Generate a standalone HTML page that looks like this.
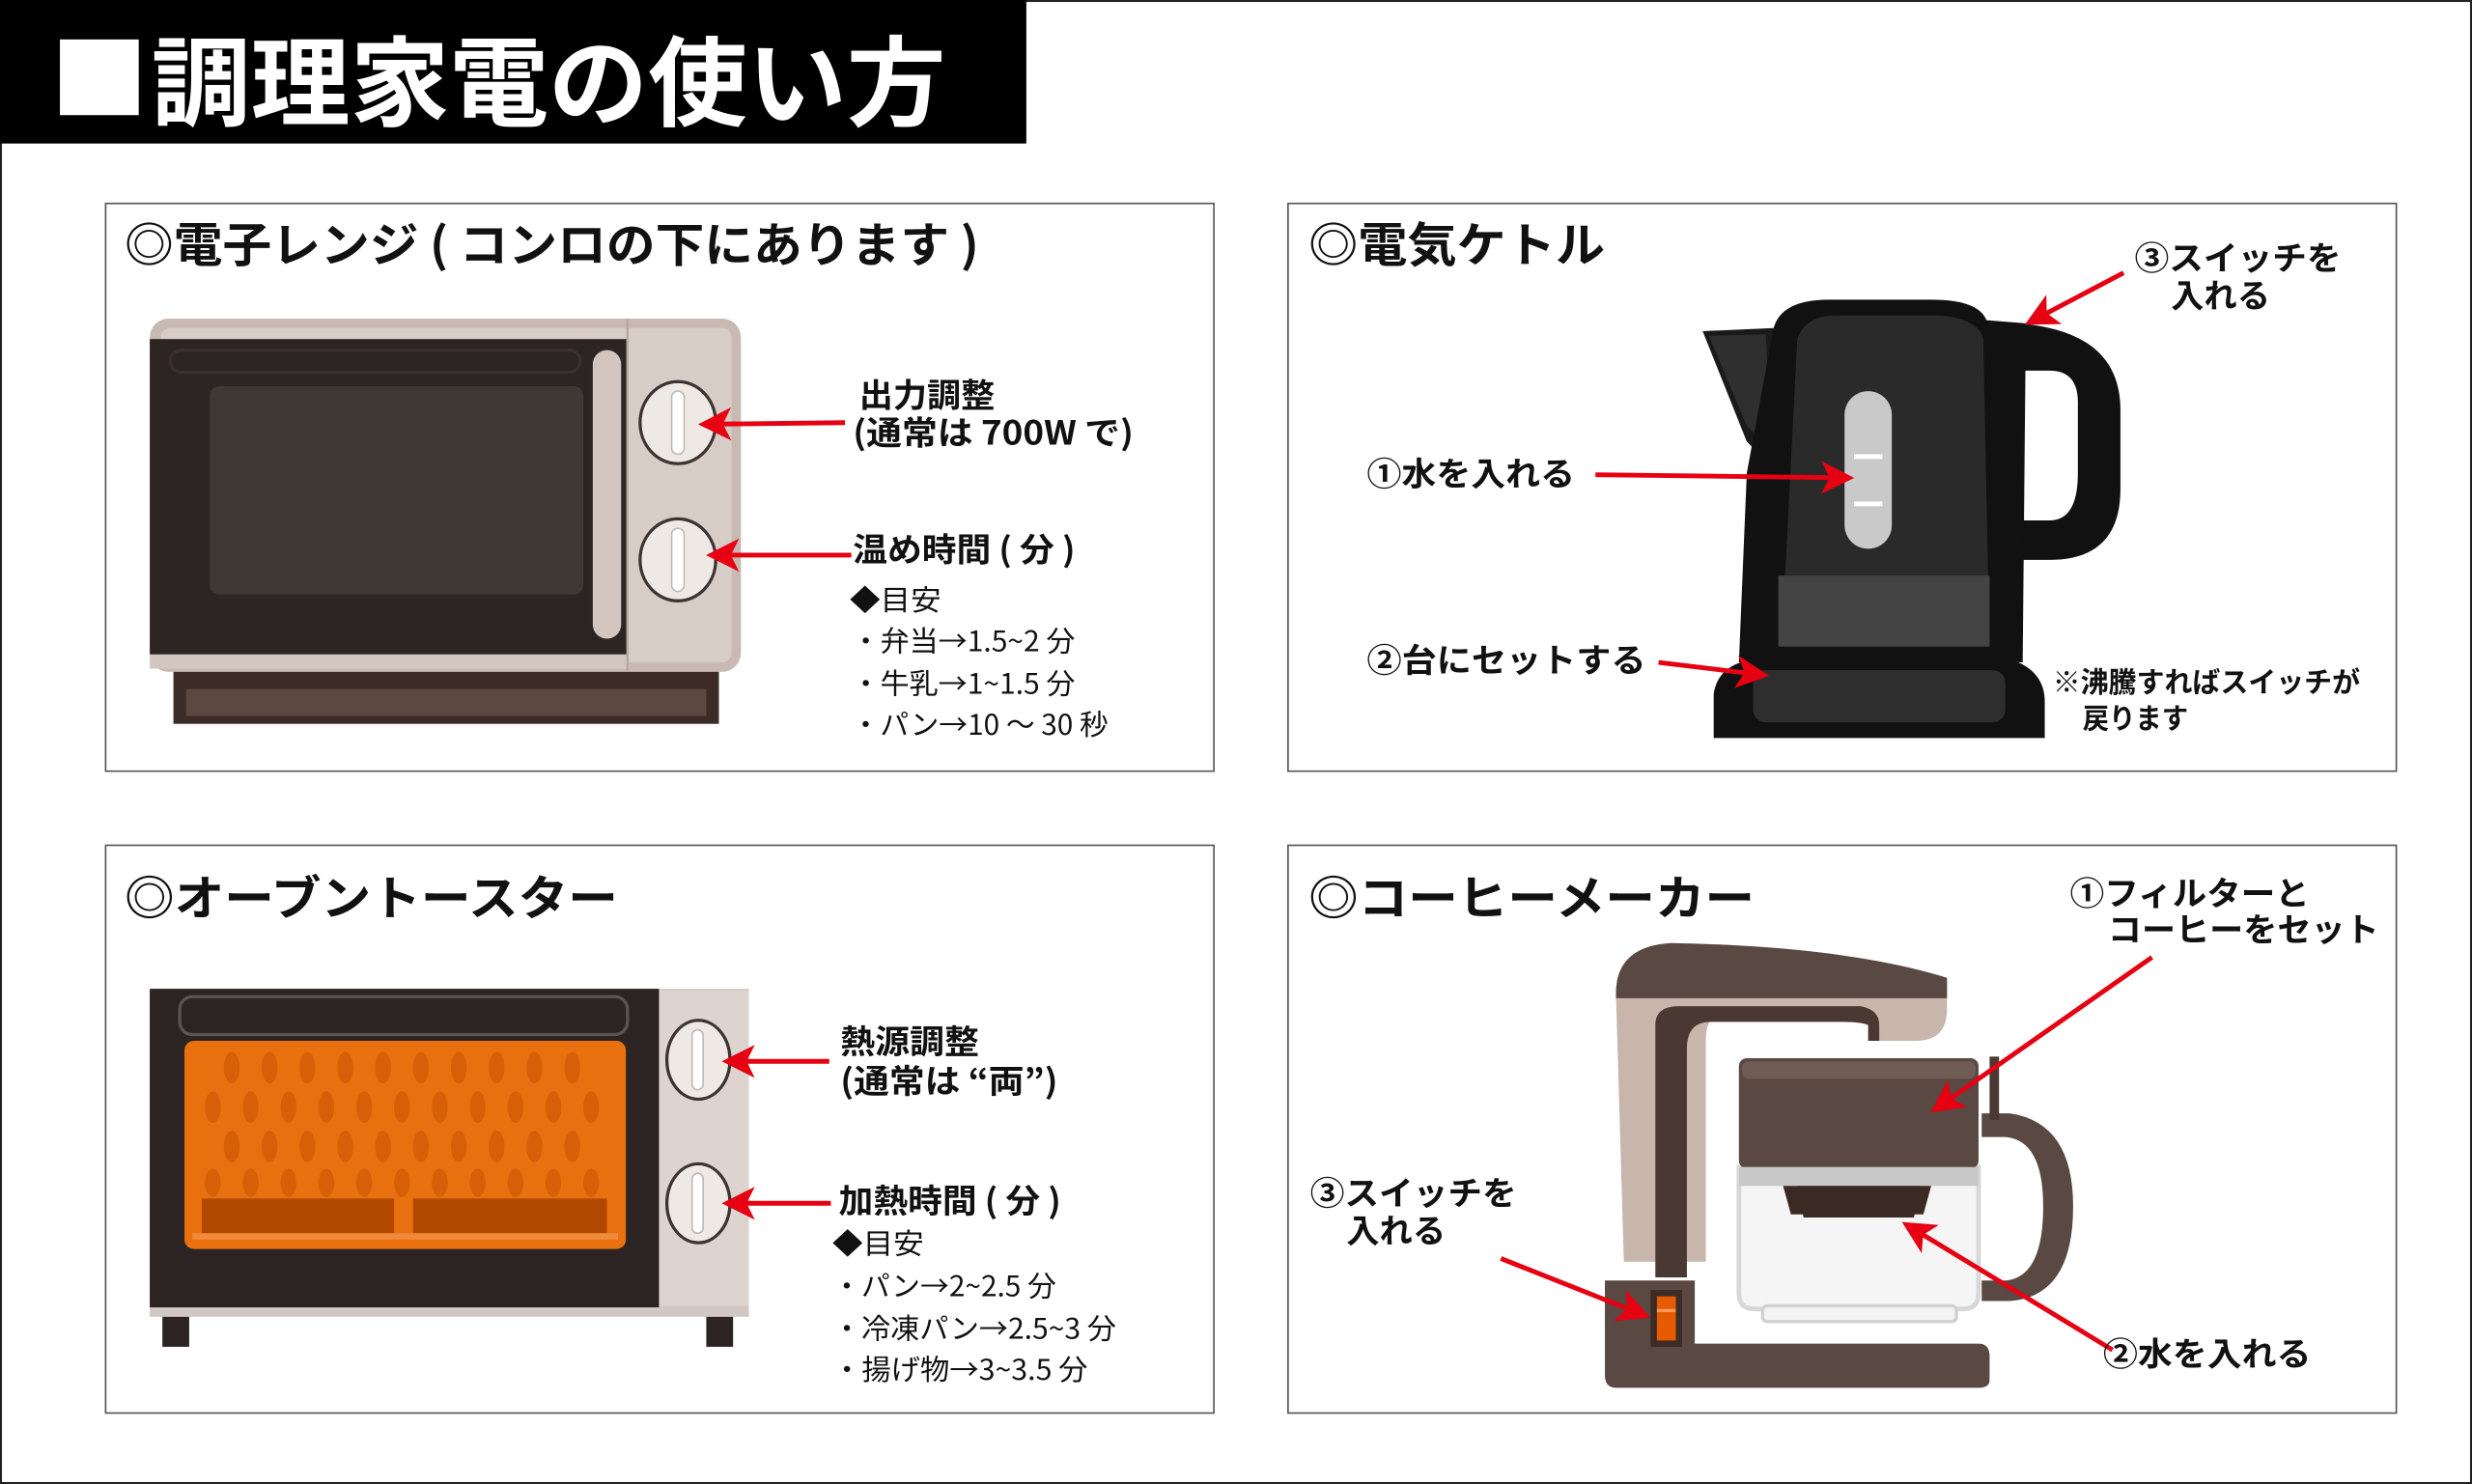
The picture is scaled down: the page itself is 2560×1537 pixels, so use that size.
<!DOCTYPE html>
<html><head><meta charset="utf-8"><style>
html,body{margin:0;padding:0;background:#fff;}
svg{display:block;}
text{font-family:"Noto Sans CJK JP","Liberation Sans",sans-serif;fill:#111;}
.b{font-weight:bold;}
</style></head><body>
<svg width="2560" height="1537" viewBox="0 0 1568 941" preserveAspectRatio="none" xmlns="http://www.w3.org/2000/svg">
<defs>
<marker id="ah" viewBox="0 0 10 10" refX="8" refY="5" markerWidth="7" markerHeight="7" orient="auto" markerUnits="strokeWidth">
<path d="M0,0 L10,5 L0,10 L2.5,5 Z" fill="#e60012"/></marker>
</defs>
<rect x="0.5" y="0.5" width="1567" height="940" fill="#fff" stroke="#222" stroke-width="1.5"/>
<rect x="0" y="0" width="651" height="91" fill="#000"/>
<rect x="38" y="25" width="50" height="48" fill="#fff"/>
<text x="96" y="75" class="b" font-size="62" style="fill:#fff" textLength="504" lengthAdjust="spacingAndGlyphs">調理家電の使い方</text>

<!-- panels -->
<rect x="67" y="129" width="703" height="360" fill="#fff" stroke="#555" stroke-width="1"/>
<rect x="817" y="129" width="703" height="360" fill="#fff" stroke="#555" stroke-width="1"/>
<rect x="67" y="536" width="703" height="360" fill="#fff" stroke="#555" stroke-width="1"/>
<rect x="817" y="536" width="703" height="360" fill="#fff" stroke="#555" stroke-width="1"/>

<text x="79" y="166" class="b" font-size="30" textLength="542" lengthAdjust="spacingAndGlyphs">◎電子レンジ ( コンロの下にあります )</text>
<text x="830" y="166" class="b" font-size="30" textLength="188" lengthAdjust="spacingAndGlyphs">◎電気ケトル</text>
<text x="79" y="580" class="b" font-size="30" textLength="313" lengthAdjust="spacingAndGlyphs">◎オーブントースター</text>
<text x="830" y="580" class="b" font-size="30" textLength="283" lengthAdjust="spacingAndGlyphs">◎コーヒーメーカー</text>

<!-- microwave -->
<rect x="110" y="424" width="346" height="35" fill="#3b2c27"/>
<rect x="118" y="437" width="330" height="17" fill="#5b4841"/>
<rect x="95" y="202" width="375" height="224" rx="12" fill="#c8b9b2"/>
<rect x="102" y="208" width="362" height="212" rx="6" fill="#d8ccc6"/>
<rect x="95" y="215" width="303" height="200" fill="#2d2523"/>
<rect x="108" y="222" width="260" height="14" rx="7" fill="none" stroke="#3a302e" stroke-width="2"/>
<rect x="133" y="245" width="237" height="132" rx="6" fill="#403835"/>
<rect x="376" y="222" width="18" height="183" rx="9" fill="#d3c6c0"/>
<rect x="95" y="415" width="303" height="9" fill="#d3c6c0"/>
<line x1="398" y1="202" x2="398" y2="426" stroke="#b8a8a0" stroke-width="1.5"/>
<ellipse cx="430" cy="268" rx="24" ry="26" fill="#efe9e6" stroke="#3d3330" stroke-width="2"/>
<rect x="426" y="248" width="8" height="40" rx="4" fill="#fff" stroke="#bbb" stroke-width="1"/>
<ellipse cx="430" cy="355" rx="24" ry="26" fill="#efe9e6" stroke="#3d3330" stroke-width="2"/>
<rect x="426" y="335" width="8" height="40" rx="4" fill="#fff" stroke="#bbb" stroke-width="1"/>
<line x1="536" y1="268" x2="447" y2="269" stroke="#e60012" stroke-width="3" marker-end="url(#ah)"/>
<line x1="540" y1="352" x2="452" y2="352" stroke="#e60012" stroke-width="3" marker-end="url(#ah)"/>
<text x="545" y="258" class="b" font-size="21" textLength="86" lengthAdjust="spacingAndGlyphs">出力調整</text>
<text x="541" y="282" class="b" font-size="21" textLength="178" lengthAdjust="spacingAndGlyphs">(通常は 700W で)</text>
<text x="541" y="356" class="b" font-size="21" textLength="141" lengthAdjust="spacingAndGlyphs">温め時間 ( 分 )</text>
<text x="539" y="387" font-size="18" textLength="58" lengthAdjust="spacingAndGlyphs">◆目安</text>
<text x="540" y="413" font-size="18" textLength="142" lengthAdjust="spacingAndGlyphs">・弁当→1.5~2 分</text>
<text x="540" y="440" font-size="18" textLength="142" lengthAdjust="spacingAndGlyphs">・牛乳→1~1.5 分</text>
<text x="540" y="466" font-size="18" textLength="163" lengthAdjust="spacingAndGlyphs">・パン→10 ～ 30 秒</text>

<!-- kettle -->
<path d="M1087,468 L1087,440 Q1090,420 1115,418 L1275,418 Q1297,425 1297,445 L1297,468 Z" fill="#111"/>
<rect x="1112" y="425" width="160" height="33" rx="8" fill="#2e2e2e"/>
<path d="M1280,205 Q1345,210 1345,260 L1345,310 Q1345,355 1300,355 L1282,355 L1282,330 L1300,330 Q1318,330 1318,300 L1318,255 Q1318,235 1300,235 L1275,235 Z" fill="#111"/>
<path d="M1080,210 L1125,208 L1128,300 L1108,280 Z" fill="#1a1a1a"/>
<path d="M1084,213 L1120,212 L1124,285 L1108,270 Z" fill="#2f2f2f"/>
<path d="M1125,208 Q1130,190 1160,190 L1225,190 Q1255,190 1260,203 L1285,205 L1283,420 L1103,420 L1108,300 Z" fill="#111"/>
<path d="M1140,215 Q1145,200 1165,200 L1230,200 Q1255,202 1258,215 L1262,410 L1130,410 Z" fill="#2a2a2a"/>
<rect x="1128" y="365" width="134" height="45" fill="#444"/>
<rect x="1170" y="248" width="30" height="100" rx="15" fill="#c9c9c9"/>
<rect x="1176" y="288" width="18" height="3" fill="#fff"/>
<rect x="1176" y="318" width="18" height="3" fill="#fff"/>
<line x1="1012" y1="301" x2="1172" y2="303" stroke="#e60012" stroke-width="3" marker-end="url(#ah)"/>
<line x1="1052" y1="420" x2="1118" y2="428" stroke="#e60012" stroke-width="3" marker-end="url(#ah)"/>
<line x1="1347" y1="173" x2="1288" y2="204" stroke="#e60012" stroke-width="3" marker-end="url(#ah)"/>
<text x="867" y="308" class="b" font-size="21" textLength="132" lengthAdjust="spacingAndGlyphs">①水を入れる</text>
<text x="867" y="426" class="b" font-size="21" textLength="177" lengthAdjust="spacingAndGlyphs">②台にセットする</text>
<text x="1354" y="171" class="b" font-size="21" textLength="131" lengthAdjust="spacingAndGlyphs">③スイッチを</text>
<text x="1377" y="195" class="b" font-size="21" textLength="63" lengthAdjust="spacingAndGlyphs">入れる</text>
<text x="1302" y="439" class="b" font-size="18" textLength="195" lengthAdjust="spacingAndGlyphs">※沸騰すればスイッチが</text>
<text x="1321" y="462" class="b" font-size="18" textLength="67" lengthAdjust="spacingAndGlyphs">戻ります</text>

<!-- toaster -->
<rect x="103" y="833" width="17" height="21" fill="#2b2422"/>
<rect x="448" y="833" width="17" height="21" fill="#2b2422"/>
<rect x="95" y="627" width="380" height="208" fill="#d2c8c3"/>
<rect x="418" y="628" width="57" height="200" fill="#ddd4d0"/>
<rect x="95" y="627" width="323" height="202" fill="#2b2422"/>
<rect x="114" y="632" width="284" height="24" rx="8" fill="#2b2422" stroke="#5a5452" stroke-width="2"/>
<rect x="117" y="660" width="280" height="132" rx="6" fill="#e9700f"/>
<g fill="#d65f08">
<ellipse cx="147" cy="677" rx="5" ry="10"/><ellipse cx="171" cy="677" rx="5" ry="10"/><ellipse cx="195" cy="677" rx="5" ry="10"/><ellipse cx="219" cy="677" rx="5" ry="10"/><ellipse cx="243" cy="677" rx="5" ry="10"/><ellipse cx="267" cy="677" rx="5" ry="10"/><ellipse cx="291" cy="677" rx="5" ry="10"/><ellipse cx="315" cy="677" rx="5" ry="10"/><ellipse cx="339" cy="677" rx="5" ry="10"/><ellipse cx="363" cy="677" rx="5" ry="10"/>
<ellipse cx="135" cy="702" rx="5" ry="10"/><ellipse cx="159" cy="702" rx="5" ry="10"/><ellipse cx="183" cy="702" rx="5" ry="10"/><ellipse cx="207" cy="702" rx="5" ry="10"/><ellipse cx="231" cy="702" rx="5" ry="10"/><ellipse cx="255" cy="702" rx="5" ry="10"/><ellipse cx="279" cy="702" rx="5" ry="10"/><ellipse cx="303" cy="702" rx="5" ry="10"/><ellipse cx="327" cy="702" rx="5" ry="10"/><ellipse cx="351" cy="702" rx="5" ry="10"/><ellipse cx="375" cy="702" rx="5" ry="10"/>
<ellipse cx="147" cy="727" rx="5" ry="10"/><ellipse cx="171" cy="727" rx="5" ry="10"/><ellipse cx="195" cy="727" rx="5" ry="10"/><ellipse cx="219" cy="727" rx="5" ry="10"/><ellipse cx="243" cy="727" rx="5" ry="10"/><ellipse cx="267" cy="727" rx="5" ry="10"/><ellipse cx="291" cy="727" rx="5" ry="10"/><ellipse cx="315" cy="727" rx="5" ry="10"/><ellipse cx="339" cy="727" rx="5" ry="10"/><ellipse cx="363" cy="727" rx="5" ry="10"/>
<ellipse cx="135" cy="750" rx="5" ry="9"/><ellipse cx="159" cy="750" rx="5" ry="9"/><ellipse cx="183" cy="750" rx="5" ry="9"/><ellipse cx="207" cy="750" rx="5" ry="9"/><ellipse cx="231" cy="750" rx="5" ry="9"/><ellipse cx="255" cy="750" rx="5" ry="9"/><ellipse cx="279" cy="750" rx="5" ry="9"/><ellipse cx="303" cy="750" rx="5" ry="9"/><ellipse cx="327" cy="750" rx="5" ry="9"/><ellipse cx="351" cy="750" rx="5" ry="9"/><ellipse cx="375" cy="750" rx="5" ry="9"/>
</g>
<rect x="128" y="760" width="122" height="22" fill="#b04800"/>
<rect x="262" y="760" width="123" height="22" fill="#b04800"/>
<rect x="122" y="782" width="270" height="4" fill="#f08a3a"/>
<ellipse cx="443" cy="672" rx="20" ry="25" fill="#efe9e6" stroke="#3d3330" stroke-width="2"/>
<rect x="439" y="653" width="7" height="38" rx="3.5" fill="#fff" stroke="#bbb" stroke-width="1"/>
<ellipse cx="443" cy="763" rx="20" ry="25" fill="#efe9e6" stroke="#3d3330" stroke-width="2"/>
<rect x="439" y="744" width="7" height="38" rx="3.5" fill="#fff" stroke="#bbb" stroke-width="1"/>
<line x1="526" y1="673" x2="462" y2="673" stroke="#e60012" stroke-width="3" marker-end="url(#ah)"/>
<line x1="527" y1="763" x2="462" y2="763" stroke="#e60012" stroke-width="3" marker-end="url(#ah)"/>
<text x="533" y="668" class="b" font-size="21" textLength="88" lengthAdjust="spacingAndGlyphs">熱源調整</text>
<text x="533" y="693" class="b" font-size="21" textLength="138" lengthAdjust="spacingAndGlyphs">(通常は “両”)</text>
<text x="532" y="769" class="b" font-size="21" textLength="141" lengthAdjust="spacingAndGlyphs">加熱時間 ( 分 )</text>
<text x="528" y="795" font-size="18" textLength="58" lengthAdjust="spacingAndGlyphs">◆目安</text>
<text x="528" y="822" font-size="18" textLength="142" lengthAdjust="spacingAndGlyphs">・パン→2~2.5 分</text>
<text x="528" y="849" font-size="18" textLength="180" lengthAdjust="spacingAndGlyphs">・冷凍パン→2.5~3 分</text>
<text x="528" y="875" font-size="18" textLength="162" lengthAdjust="spacingAndGlyphs">・揚げ物→3~3.5 分</text>

<!-- coffee maker -->
<path d="M1025,630 Q1025,600 1060,598 Q1170,600 1235,620 L1235,640 Q1235,660 1215,660 L1185,660 L1185,645 L1090,645 Q1082,645 1082,660 L1082,800 L1030,800 Z" fill="#c8b6ac"/>
<path d="M1025,630 Q1025,600 1060,598 Q1170,600 1235,620 L1235,633 L1025,633 Z" fill="#5a4842"/>
<path d="M1050,810 L1050,650 Q1050,638 1065,638 L1180,638 Q1192,640 1192,650 L1192,660 L1185,660 L1185,650 Q1180,648 1170,648 L1085,648 Q1070,648 1070,665 L1070,810 Z" fill="#4a3832"/>
<path d="M1018,812 L1075,812 L1075,852 L1255,852 Q1262,852 1262,860 L1262,875 Q1262,880 1255,880 L1025,880 Q1018,880 1018,872 Z" fill="#5a4842"/>
<rect x="1047" y="818" width="20" height="36" fill="#3b2c27"/>
<rect x="1051" y="822" width="12" height="28" fill="#e65a00"/>
<rect x="1051" y="830" width="12" height="2" fill="#f59a5a"/>
<path d="M1257,706 L1275,706 Q1315,712 1315,765 Q1315,822 1275,825 L1257,825 L1257,812 L1272,812 Q1296,810 1296,765 Q1296,723 1272,721 L1257,721 Z" fill="#5a4842"/>
<rect x="1262" y="670" width="6" height="40" fill="#4a3832"/>
<path d="M1103,740 L1255,740 L1255,820 Q1255,830 1245,830 L1113,830 Q1103,830 1103,820 Z" fill="#f5f5f5" stroke="#d8d8d8" stroke-width="3"/>
<rect x="1118" y="828" width="123" height="10" rx="3" fill="#f3f3f3" stroke="#d0d0d0" stroke-width="2"/>
<rect x="1103" y="671" width="152" height="70" rx="5" fill="#5a4842"/>
<rect x="1105" y="673" width="148" height="11" rx="4" fill="#6e5c55"/>
<path d="M1128,741 L1228,741 L1220,770 L1136,770 Z" fill="#3b2a24"/>
<rect x="1103" y="740" width="152" height="12" fill="#c8c8c8"/>
<path d="M1140,752 L1218,752 L1214,772 L1144,772 Z" fill="#3b2a24"/>
<line x1="1365" y1="607" x2="1228" y2="703" stroke="#e60012" stroke-width="3" marker-end="url(#ah)"/>
<line x1="952" y1="798" x2="1043" y2="834" stroke="#e60012" stroke-width="3" marker-end="url(#ah)"/>
<line x1="1340" y1="856" x2="1210" y2="777" stroke="#e60012" stroke-width="3" marker-end="url(#ah)"/>
<text x="1313" y="574" class="b" font-size="21" textLength="152" lengthAdjust="spacingAndGlyphs">①フィルターと</text>
<text x="1337" y="597" class="b" font-size="21" textLength="172" lengthAdjust="spacingAndGlyphs">コーヒーをセット</text>
<text x="831" y="764" class="b" font-size="21" textLength="131" lengthAdjust="spacingAndGlyphs">③スイッチを</text>
<text x="854" y="788" class="b" font-size="21" textLength="63" lengthAdjust="spacingAndGlyphs">入れる</text>
<text x="1334" y="866" class="b" font-size="21" textLength="132" lengthAdjust="spacingAndGlyphs">②水を入れる</text>
</svg>
</body></html>
